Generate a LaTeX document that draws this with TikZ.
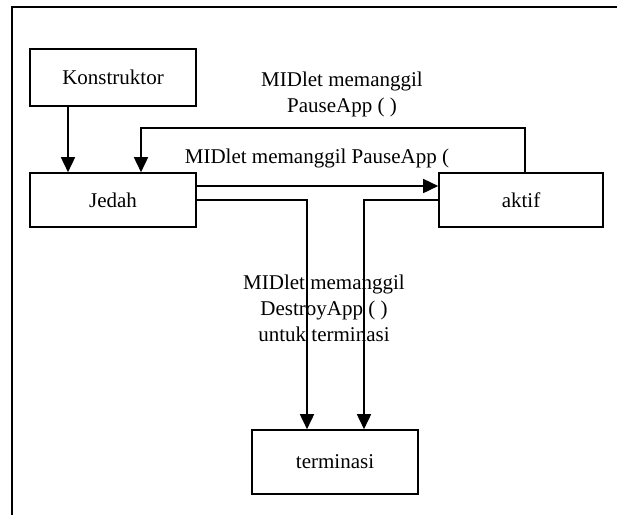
\documentclass[tikz,border=0pt]{standalone}
\usepackage{fontspec}
\setmainfont{Liberation Serif}
\usetikzlibrary{arrows.meta}
\tikzset{
  box/.style={draw, line width=1.6pt, inner sep=0pt, font=\fontsize{21}{26}\selectfont},
  lbl/.style={inner sep=0pt, align=center, font=\fontsize{21}{26}\selectfont},
  conn/.style={line width=1.6pt},
  arr/.style={conn, -{Triangle[width=14pt,length=15pt]}},
  frame/.style={line width=1.6pt}
}
\begin{document}
\begin{tikzpicture}[x=1pt,y=-1pt]
\useasboundingbox (0,0) rectangle (617,515);
% outer frame (open at right and bottom)
\coordinate (fbl) at (12,515);
\coordinate (ftl) at (12,7);
\coordinate (ftr) at (618,7);
\draw[frame] (fbl) -- (ftl) -- (ftr);
% boxes
\node[box, minimum width=166pt, minimum height=57pt] (K) at (113,77.5) {Konstruktor\hspace{20pt}};
\node[box, minimum width=166pt, minimum height=54pt] (J) at (113,200) {Jedah};
\node[box, minimum width=164pt, minimum height=54pt] (A) at (521,200) {aktif};
\node[box, minimum width=166pt, minimum height=64pt] (T) at (335,462) {terminasi};
% helper coordinates
\coordinate (xk) at (68,0);
\coordinate (xl) at (141,0);
\coordinate (xr) at (525,0);
\coordinate (yt) at (0,128);
\coordinate (ya) at (0,186);
\coordinate (x1) at (307,0);
\coordinate (x2) at (364,0);
% connectors
\draw[arr] (K.south -| xk) -- (J.north -| xk);
\draw[arr] (A.north -| xr) -- (xr |- yt) -- (xl |- yt) -- (J.north -| xl);
\draw[arr] (J.east |- ya) -- (A.west |- ya);
\draw[arr] (J.east) -| (T.north -| x1);
\draw[arr] (A.west) -| (T.north -| x2);
% labels
\node[lbl] (l1) at (342,94) {MIDlet memanggil\\PauseApp ( )};
\node[lbl] (l2) at (317,158) {MIDlet memanggil PauseApp (};
\node[lbl] (l3) at (324,308) {MIDlet memanggil\\DestroyApp ( )\\untuk terminasi};
\end{tikzpicture}
\end{document}
